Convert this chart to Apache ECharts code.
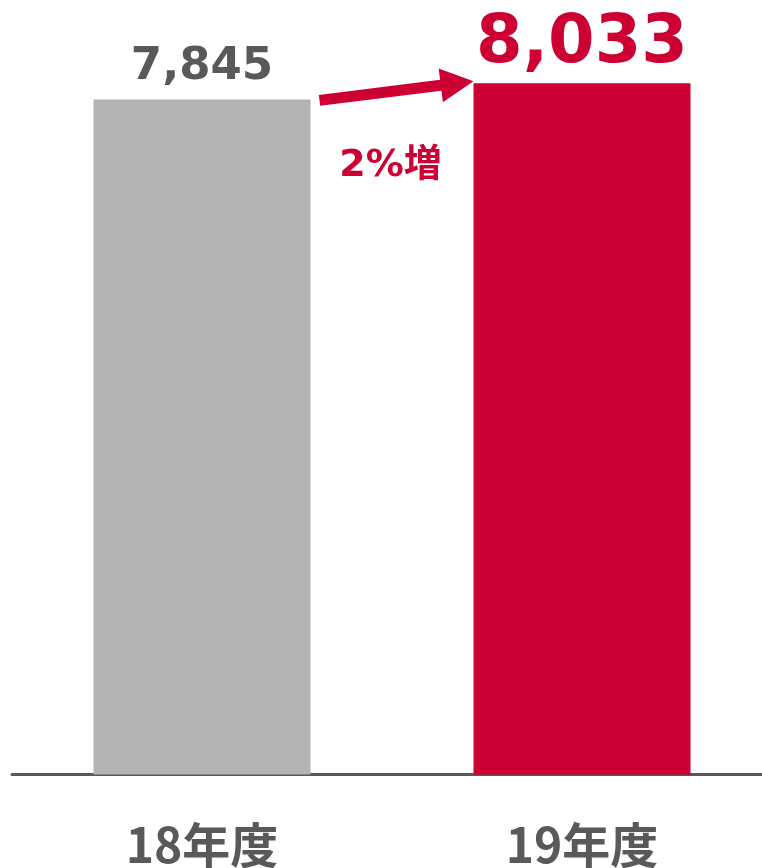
<!DOCTYPE html>
<html>
<head>
<meta charset="utf-8">
<script src="https://cdn.jsdelivr.net/npm/echarts@6/dist/echarts.min.js"></script>
<style>
  html, body { margin: 0; padding: 0; background: #fff; }
  #main { width: 762px; height: 868px; }
</style>
</head>
<body>
<div id="main"></div>
<script>
const categories = ['18年度', '19年度']
const values = [7845, 8033]
const barColors = ['#b3b3b3', '#cc0033']
const growthText = '2%増'

const chart = echarts.init(document.getElementById('main'))

const fmt = v => v.toLocaleString('en-US')

chart.setOption({
    animation: false,
    grid: {
        left: 12,
        width: 760,
        top: 0,
        bottom: 93.5,
        outerBoundsMode: 'none'
    },
    xAxis: {
        type: 'category',
        data: categories,
        axisTick: { show: false },
        axisLine: {
            lineStyle: { color: '#595959', width: 3 }
        },
        axisLabel: {
            margin: 46,
            color: '#595959',
            fontSize: 48,
            fontWeight: 'bold',
            fontFamily: 'Noto Sans CJK JP'
        }
    },
    yAxis: {
        type: 'value',
        min: 0,
        max: 9000,
        show: false
    },
    series: [
        {
            type: 'bar',
            barWidth: 217,
            data: values.map((v, i) => ({
                value: v,
                itemStyle: { color: barColors[i] },
                label: i === 1
                    ? { fontSize: 67, color: '#cc0033', distance: 5 }
                    : { fontSize: 45, color: '#595959', distance: 10 }
            })),
            label: {
                show: true,
                position: 'top',
                fontWeight: 'bold',
                fontFamily: 'DejaVu Sans',
                formatter: p => fmt(p.value)
            }
        }
    ]
})

// 増加の矢印（データ座標から位置を計算）
function drawArrow() {
    const half = 217 / 2
    const p1 = chart.convertToPixel({ seriesIndex: 0 }, [0, values[0]])
    const p2 = chart.convertToPixel({ seriesIndex: 0 }, [1, values[1]])
    const sx = p1[0] + half + 9, sy = p1[1] + 1
    const ex = p2[0] - half, ey = p2[1] - 2
    const dx = ex - sx, dy = ey - sy
    const len = Math.sqrt(dx * dx + dy * dy)
    const ux = dx / len, uy = dy / len
    const nx = -uy, ny = ux
    const headLen = 33, headW = 17, shaftW = 5.5
    const bx = ex - ux * headLen, by = ey - uy * headLen
    const pts = [
        [sx + nx * shaftW, sy + ny * shaftW],
        [bx + nx * shaftW, by + ny * shaftW],
        [bx + nx * headW, by + ny * headW],
        [ex, ey],
        [bx - nx * headW, by - ny * headW],
        [bx - nx * shaftW, by - ny * shaftW],
        [sx - nx * shaftW, sy - ny * shaftW]
    ]
    chart.setOption({
        graphic: [
            {
                type: 'polygon',
                shape: { points: pts },
                style: { fill: '#cc0033' }
            },
            {
                type: 'text',
                x: (sx + ex) / 2 - 6,
                y: 166,
                style: {
                    text: growthText,
                    fill: '#cc0033',
                    font: 'bold 38px "DejaVu Sans", "Noto Sans CJK JP"',
                    align: 'center',
                    verticalAlign: 'middle'
                }
            }
        ]
    })
}
drawArrow()
</script>
</body>
</html>
